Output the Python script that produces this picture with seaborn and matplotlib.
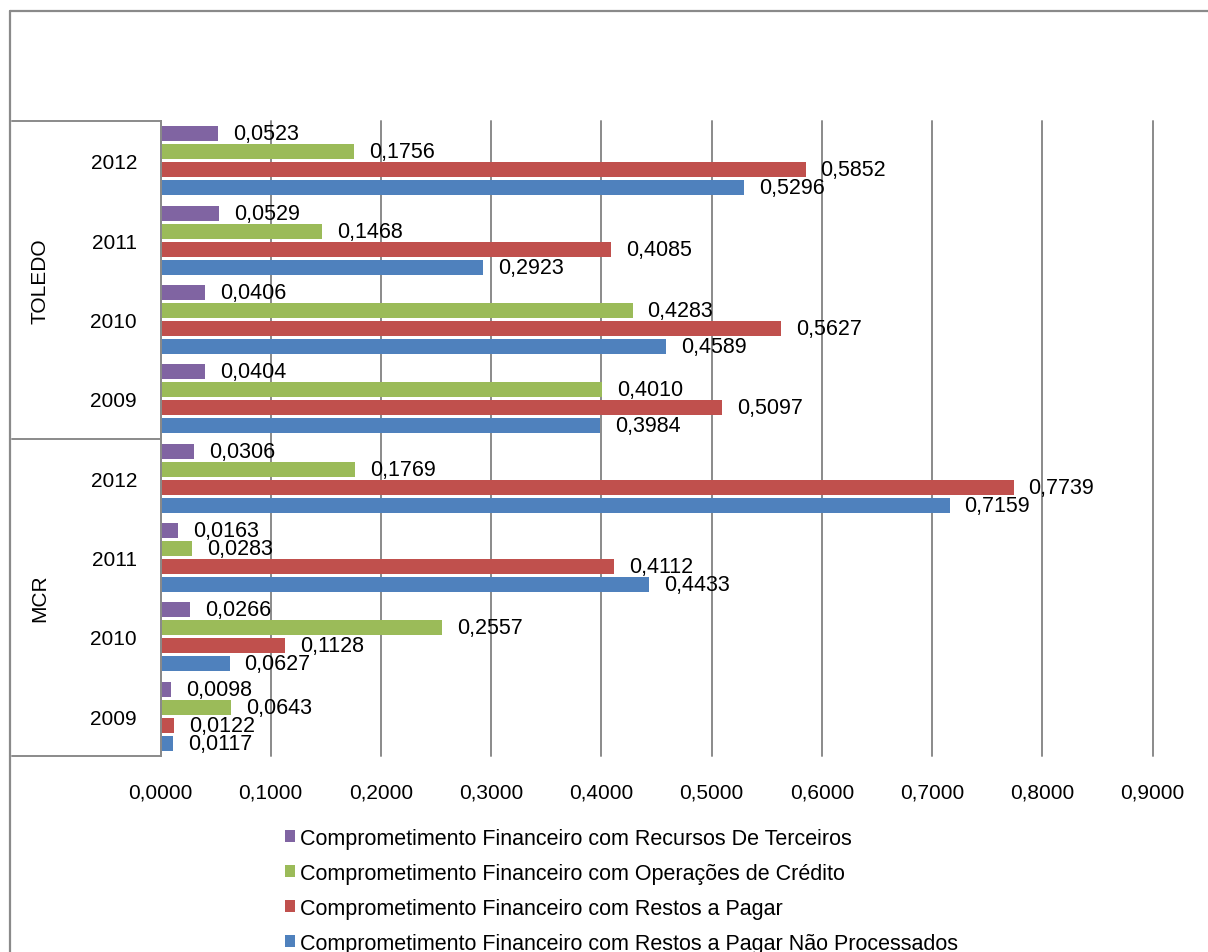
import matplotlib
matplotlib.use("Agg")
import matplotlib.pyplot as plt
from matplotlib.lines import Line2D
from matplotlib.patches import Patch
import seaborn as sns
import pandas as pd

# --- data -------------------------------------------------------------
municipios = ["TOLEDO", "MCR"]
anos = ["2012", "2011", "2010", "2009"]

series = [
    "Comprometimento Financeiro com Recursos De Terceiros",
    "Comprometimento Financeiro com Operações de Crédito",
    "Comprometimento Financeiro com Restos a Pagar",
    "Comprometimento Financeiro com Restos a Pagar Não Processados",
]
cores = ["#8064A2", "#9BBB59", "#C0504D", "#4F81BD"]

# values per category (TOLEDO 2012..2009, MCR 2012..2009)
recursos_terceiros = [0.0523, 0.0529, 0.0406, 0.0404, 0.0306, 0.0163, 0.0266, 0.0098]
operacoes_credito = [0.1756, 0.1468, 0.4283, 0.4010, 0.1769, 0.0283, 0.2557, 0.0643]
restos_pagar = [0.5852, 0.4085, 0.5627, 0.5097, 0.7739, 0.4112, 0.1128, 0.0122]
restos_nao_proc = [0.5296, 0.2923, 0.4589, 0.3984, 0.7159, 0.4433, 0.0627, 0.0117]

x_ticks = [0.0, 0.1, 0.2, 0.3, 0.4, 0.5, 0.6, 0.7, 0.8, 0.9]

# --- long-form table ---------------------------------------------------
categorias = [f"{m} {a}" for m in municipios for a in anos]
valores = [recursos_terceiros, operacoes_credito, restos_pagar, restos_nao_proc]
rows = []
for serie, vals in zip(series, valores):
    for cat, v in zip(categorias, vals):
        rows.append({"categoria": cat, "serie": serie, "valor": v})
df = pd.DataFrame(rows)

# --- style -------------------------------------------------------------
sns.set_style("white")
plt.rcParams["font.family"] = ["Liberation Sans", "DejaVu Sans"]
plt.rcParams["text.color"] = "black"
plt.rcParams["xtick.color"] = "black"
plt.rcParams["ytick.color"] = "black"
FS = 15.0        # axis labels
FS_LBL = 15.5    # value labels and legend
GRID = "#8a8a8a"

W, H = 1208, 953
fig = plt.figure(figsize=(W / 100, H / 100), dpi=100)
ax_l, ax_r, ax_t, ax_b = 160.5, 1152.5, 122, 757
ax = fig.add_axes([ax_l / W, 1 - ax_b / H, (ax_r - ax_l) / W, (ax_b - ax_t) / H])

sns.barplot(
    data=df, x="valor", y="categoria", hue="serie",
    order=categorias, hue_order=series, palette=cores,
    orient="h", width=0.907, gap=0.167, saturation=1,
    linewidth=0, legend=False, ax=ax,
)

# value labels
for cont in ax.containers:
    ax.bar_label(
        cont,
        labels=[f"{v:.4f}".replace(".", ",") for v in cont.datavalues],
        padding=10.8, fontsize=FS_LBL, color="black",
    )

# x axis
ax.set_xticks(x_ticks)
ax.set_xticklabels([f"{t:.4f}".replace(".", ",") for t in x_ticks], fontsize=FS,
                   color="black")
ax.xaxis.grid(True, color=GRID, linewidth=1.4)
ax.yaxis.grid(False)
ax.set_axisbelow(True)
ax.tick_params(axis="x", length=0, pad=19)

# y axis: year labels
ax.set_yticks(range(len(categorias)))
ax.set_yticklabels([c.split()[1] for c in categorias], fontsize=FS, color="black")
ax.tick_params(axis="y", length=0, pad=17)
ax.set_xlabel("")
ax.set_ylabel("")

for s in ["top", "right", "bottom"]:
    ax.spines[s].set_visible(False)
ax.spines["left"].set_color(GRID)
ax.spines["left"].set_linewidth(1.4)

# grouped category box on the left
box_left = (12 - ax_l) / (ax_r - ax_l)
for yy in [0.0, 0.5, 1.0]:
    ax.add_line(Line2D([box_left, 0], [yy, yy], transform=ax.transAxes,
                       clip_on=False, color=GRID, linewidth=1.4))
grp_x = (40 - ax_l) / (ax_r - ax_l)
for m, yy in zip(municipios, [0.75, 0.25]):
    ax.text(grp_x, yy, m, transform=ax.transAxes, rotation=90,
            ha="center", va="center", fontsize=FS, color="black")

ax.set_xlim(0, 0.9)
ax.set_ylim(len(categorias) - 0.5, -0.5)
for gl in ax.get_xgridlines():
    gl.set_clip_on(False)

# chart frame
fig.add_artist(Line2D([10 / W, 1], [1 - 12 / H, 1 - 12 / H], color=GRID, linewidth=1.6))
fig.add_artist(Line2D([10 / W, 10 / W], [0, 1 - 12 / H], color=GRID, linewidth=1.6))

# legend
handles = [Patch(facecolor=c, edgecolor="none") for c in cores]
leg = fig.legend(
    handles, series, loc="upper left",
    bbox_to_anchor=(285 / W, 1 - 829 / H),
    frameon=False, fontsize=FS_LBL,
    handlelength=0.47, handleheight=0.47, handletextpad=0.24,
    labelspacing=0.65, borderpad=0, borderaxespad=0,
)
for t in leg.get_texts():
    t.set_color("black")

fig.savefig("out.png", dpi=100)
